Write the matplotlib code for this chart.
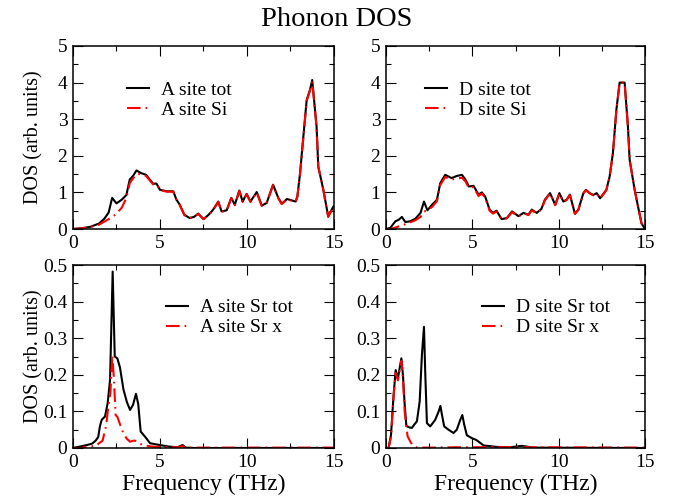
import matplotlib
matplotlib.use('Agg')
import matplotlib.pyplot as plt
from matplotlib.ticker import MultipleLocator, FuncFormatter

plt.rcParams['font.family'] = ['Liberation Serif', 'DejaVu Serif']
plt.rcParams['mathtext.fontset'] = 'stix'

# A site, Si partial DOS
a_tot_x = [0, 0.5, 1.0, 1.5, 1.8, 2.05, 2.25, 2.5, 2.8, 3.07, 3.26, 3.45, 3.65, 3.9,
           4.2, 4.6, 4.8, 5.0, 5.4, 5.76, 5.95, 6.14, 6.4, 6.7, 6.95, 7.2, 7.5, 7.8,
           8.06, 8.35, 8.54, 8.83, 9.1, 9.3, 9.56, 9.75, 9.98, 10.2, 10.56, 10.85,
           11.13, 11.5, 11.8, 12.0, 12.3, 12.8, 12.9, 13.05, 13.24, 13.43, 13.62,
           13.75, 14.0, 14.1, 14.39, 14.67, 14.96, 15.0]
a_tot_y = [0, 0.02, 0.06, 0.15, 0.28, 0.45, 0.85, 0.7, 0.8, 0.93, 1.35, 1.45, 1.6, 1.53,
           1.48, 1.24, 1.24, 1.07, 1.03, 1.03, 0.8, 0.66, 0.39, 0.3, 0.33, 0.42, 0.27, 0.39,
           0.53, 0.75, 0.48, 0.51, 0.85, 0.66, 1.05, 0.75, 0.96, 0.75, 1.01, 0.64,
           0.71, 1.21, 0.85, 0.69, 0.82, 0.75, 0.9, 1.52, 2.52, 3.52, 3.8,
           4.07, 2.8, 1.7, 1.07, 0.34, 0.61, 0.62]
a_si_x = a_tot_x
a_si_y = [0, 0.02, 0.05, 0.12, 0.2, 0.27, 0.32, 0.42, 0.58, 0.85, 1.25, 1.38, 1.5, 1.5,
          1.45, 1.22, 1.23, 1.06, 1.02, 1.02, 0.79, 0.65, 0.38, 0.3, 0.33, 0.41, 0.27, 0.38,
          0.52, 0.74, 0.47, 0.5, 0.84, 0.65, 1.04, 0.74, 0.95, 0.74, 1.0, 0.63,
          0.7, 1.2, 0.84, 0.68, 0.81, 0.74, 0.89, 1.51, 2.5, 3.5, 3.78,
          4.03, 2.78, 1.7, 1.06, 0.33, 0.6, 0.61]

# D site, Si partial DOS
d_tot_x = [0, 0.25, 0.54, 0.73, 0.92, 1.12, 1.4, 1.7, 2.0, 2.2, 2.4, 2.66, 2.95, 3.14,
           3.43, 3.8, 4.1, 4.4, 4.6, 4.8, 5.07, 5.36, 5.55, 5.74, 6.0, 6.2, 6.4, 6.7,
           7.0, 7.3, 7.67, 7.96, 8.25, 8.44, 8.73, 9.0, 9.2, 9.5, 9.8, 10.04, 10.27,
           10.46, 10.65, 10.94, 11.14, 11.43, 11.58, 11.8, 12.0, 12.2, 12.4, 12.76,
           12.95, 13.14, 13.34, 13.53, 13.82, 14.01, 14.11, 14.4, 14.6, 14.8, 15.0]
d_tot_y = [0, 0.03, 0.21, 0.25, 0.33, 0.19, 0.21, 0.28, 0.44, 0.75, 0.51, 0.66, 0.8, 1.25,
           1.48, 1.39, 1.45, 1.48, 1.35, 1.16, 1.18, 0.94, 1.0, 0.89, 0.53, 0.44, 0.5, 0.27,
           0.3, 0.48, 0.35, 0.44, 0.39, 0.53, 0.44, 0.55, 0.8, 0.98, 0.66, 0.98, 0.75,
           0.8, 0.94, 0.42, 0.53, 0.98, 1.07, 0.98, 0.93, 0.98, 0.84, 1.07,
           1.43, 2.07, 3.25, 4.0, 4.0, 2.8, 1.89, 1.07, 0.6, 0.15, 0]
d_si_x = d_tot_x
d_si_y = [0, 0.0, 0.04, 0.07, 0.1, 0.13, 0.18, 0.24, 0.33, 0.48, 0.5, 0.6, 0.76, 1.2,
          1.42, 1.35, 1.38, 1.4, 1.3, 1.12, 1.15, 0.9, 0.97, 0.86, 0.5, 0.42, 0.48, 0.26,
          0.29, 0.46, 0.34, 0.43, 0.38, 0.51, 0.43, 0.54, 0.78, 0.97, 0.65, 0.97, 0.74,
          0.79, 0.93, 0.41, 0.52, 0.97, 1.06, 0.97, 0.92, 0.97, 0.83, 1.06,
          1.42, 2.06, 3.24, 4.0, 4.0, 2.8, 1.89, 1.07, 0.6, 0.15, 0]

# A site, Sr partial DOS
a_sr_x = [0, 0.2, 0.8, 1.1, 1.3, 1.45, 1.55, 1.65, 1.84, 1.99, 2.13, 2.28, 2.4, 2.55,
          2.7, 2.9, 3.1, 3.28, 3.45, 3.62, 3.75, 3.89, 4.14, 4.43, 5.0, 5.5, 6.0, 6.3,
          6.5, 7.0, 15.0]
a_sr_y = [0, 0.002, 0.008, 0.012, 0.02, 0.03, 0.06, 0.077, 0.086, 0.122, 0.186, 0.482,
          0.25, 0.245, 0.22, 0.16, 0.125, 0.104, 0.118, 0.148, 0.12, 0.045, 0.031, 0.013,
          0.008, 0.004, 0.002, 0.008, 0.001, 0, 0]
a_srx_x = [0, 0.4, 1.3, 1.7, 1.9, 2.05, 2.15, 2.26, 2.35, 2.45, 2.55, 2.7, 2.9, 3.1,
           3.28, 3.45, 3.56, 3.75, 4.0, 4.5, 5.5, 6.0, 6.3, 6.5, 15.0]
a_srx_y = [0, 0, 0.006, 0.02, 0.06, 0.12, 0.15, 0.254, 0.19, 0.09, 0.085, 0.065, 0.04,
           0.025, 0.017, 0.02, 0.02, 0.015, 0.008, 0.004, 0.002, 0.002, 0.005, 0.001, 0.001]

# D site, Sr partial DOS
d_sr_x = [0, 0.15, 0.29, 0.44, 0.56, 0.69, 0.79, 0.89, 0.98, 1.08, 1.18, 1.37, 1.5,
          1.64, 1.79, 1.95, 2.08, 2.2, 2.27, 2.37, 2.56, 2.85, 3.05, 3.15, 3.24, 3.37,
          3.62, 3.91, 4.1, 4.3, 4.42, 4.53, 4.68, 4.97, 5.23, 5.65, 6.42, 7.19, 7.86,
          8.15, 8.5, 15.0]
d_sr_y = [0, 0, 0.036, 0.145, 0.213, 0.19, 0.218, 0.245, 0.2, 0.12, 0.06, 0.056, 0.055,
          0.064, 0.073, 0.127, 0.255, 0.331, 0.209, 0.068, 0.059, 0.077, 0.1, 0.115,
          0.091, 0.059, 0.05, 0.041, 0.05, 0.077, 0.09, 0.064, 0.035, 0.027, 0.022,
          0.007, 0.003, 0.002, 0.006, 0.004, 0.001, 0]
d_srx_x = [0, 0.15, 0.29, 0.44, 0.56, 0.69, 0.79, 0.89, 0.98, 1.08, 1.25, 1.45, 1.6,
           1.8, 2.5, 4.0, 5.5, 6.0, 6.5, 7.5, 15.0]
d_srx_y = [0, 0, 0.03, 0.14, 0.205, 0.185, 0.21, 0.238, 0.19, 0.1, 0.032, 0.014, 0.005,
           0.001, 0.001, 0.002, 0.002, 0.004, 0.002, 0.002, 0.001]

panels = [
    (a_tot_x, a_tot_y, a_si_x, a_si_y, 'A site tot', 'A site Si', 5, 1, 0.5),
    (d_tot_x, d_tot_y, d_si_x, d_si_y, 'D site tot', 'D site Si', 5, 1, 0.5),
    (a_sr_x, a_sr_y, a_srx_x, a_srx_y, 'A site Sr tot', 'A site Sr x', 0.5, 0.1, 0.05),
    (d_sr_x, d_sr_y, d_srx_x, d_srx_y, 'D site Sr tot', 'D site Sr x', 0.5, 0.1, 0.05),
]

# axes boxes in figure fraction: left, bottom, width, height
boxes = [
    [0.1083, 0.542, 0.3872, 0.366],
    [0.5727, 0.542, 0.3843, 0.366],
    [0.1083, 0.104, 0.3872, 0.366],
    [0.5727, 0.104, 0.3843, 0.366],
]
legend_pos = [(0.207, 0.805), (0.151, 0.805), (0.356, 0.815), (0.371, 0.815)]

# plain "0" at the origin, short decimals elsewhere
tick_fmt = FuncFormatter(lambda v, pos: '0' if abs(v) < 1e-9 else '%g' % round(v, 3))

fig = plt.figure(figsize=(6.74, 5.0), dpi=100)

for i, (tx, ty, px, py, ltot, lpart, ymax, ymaj, ymin) in enumerate(panels):
    ax = fig.add_axes(boxes[i])
    ax.plot(tx, ty, color='black', lw=1.5, label=ltot)
    ax.plot(px, py, color='red', lw=1.5, dashes=(6.5, 2.4, 0.8, 2.4), label=lpart)
    ax.set_xlim(0, 15)
    ax.set_ylim(0, ymax)
    ax.xaxis.set_major_locator(MultipleLocator(5))
    ax.xaxis.set_minor_locator(MultipleLocator(2.5))
    ax.yaxis.set_major_locator(MultipleLocator(ymaj))
    ax.yaxis.set_minor_locator(MultipleLocator(ymin))
    ax.yaxis.set_major_formatter(tick_fmt)
    ax.tick_params(which='both', direction='in', top=True, right=True,
                   labelsize=14, width=0.8, pad=4)
    ax.tick_params(which='major', length=7.5)
    ax.tick_params(which='minor', length=3.8)
    for s in ax.spines.values():
        s.set_linewidth(1.1)
    ax.legend(loc='upper left', bbox_to_anchor=legend_pos[i], frameon=False,
              fontsize=14, handlelength=1.15, handletextpad=0.6, labelspacing=0.12,
              borderpad=0, borderaxespad=0)
    if i % 2 == 0:
        ax.set_ylabel('DOS (arb. units)', fontsize=14.5)
        ax.yaxis.set_label_coords(-0.112, 0.5)
    if i >= 2:
        ax.set_xlabel('Frequency (THz)', fontsize=17, labelpad=2)

fig.suptitle('Phonon DOS', fontsize=20.5, y=0.985)
fig.savefig('out.png', dpi=100)
